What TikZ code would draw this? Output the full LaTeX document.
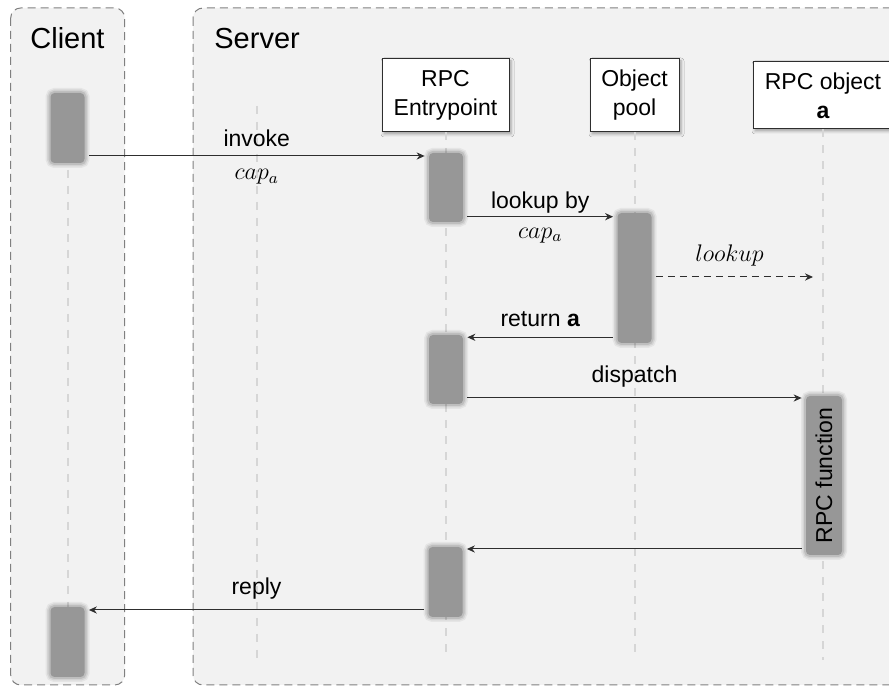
\documentclass[tikz,border=0pt]{standalone}
\usepackage{fontspec}
\setmainfont{Liberation Sans}
\usetikzlibrary{shadows.blur,calc,arrows.meta}
\definecolor{lanebg}{HTML}{F2F2F2}
\definecolor{laneborder}{HTML}{808080}
\definecolor{actfill}{HTML}{979797}
\definecolor{lifegray}{HTML}{D6D6D6}
\definecolor{msgcol}{HTML}{2E2E2E}
\newcommand{\lblfont}{\fontsize{11.5}{14.5}\selectfont}
\newcommand{\ttlfont}{\fontsize{14.5}{17}\selectfont}
\tikzset{
  lane/.style={draw=laneborder, fill=lanebg, dash pattern=on 4pt off 2.5pt, line width=0.5pt, rounded corners=5pt},
  lanetitle/.style={font=\ttlfont, anchor=base, inner sep=0pt},
  participant/.style={draw=msgcol, fill=white, line width=0.5pt, align=center, inner sep=0pt, font=\lblfont,
    blur shadow={shadow xshift=1pt, shadow yshift=-1pt, shadow blur radius=1.5pt, shadow opacity=35}},
  activation/.style={draw=none, fill=actfill, rounded corners=2pt, minimum width=17pt, inner sep=0pt,
    preaction={draw=black, line width=5pt, draw opacity=0.05},
    preaction={draw=black, line width=3.5pt, draw opacity=0.07},
    preaction={draw=black, line width=2pt, draw opacity=0.1}},
  lifeline/.style={draw=lifegray, line width=1pt, dash pattern=on 4pt off 4pt},
  msg/.style={draw=msgcol, line width=0.5pt, -{Stealth[length=4pt,width=3.6pt,inset=1.3pt]}, shorten <=2pt, shorten >=2pt},
  dmsg/.style={msg, dash pattern=on 3.5pt off 2.5pt},
  lbl/.style={font=\lblfont, anchor=base, inner sep=0pt},
}
\begin{document}
\begin{tikzpicture}[x=0.5pt, y=-0.5pt]
\useasboundingbox (0,0) rectangle (889,688);
% lanes
\draw[lane] (10.7,8) rectangle (124.7,685);
\draw[lane] (193,8) rectangle (910,685);
\node[lanetitle] (clienttitle) at (67.5,49) {Client};
\node[lanetitle, anchor=base west] (servertitle) at (214,49) {Server};
% participants
\node[participant, minimum width=63.5pt, minimum height=36.5pt] (ep) at (445.5,95.5) {RPC\\Entrypoint};
\node[participant, minimum width=44.5pt, minimum height=36.5pt] (pool) at (634.5,95.5) {Object\\pool};
\node[participant, minimum width=70pt, minimum height=33.5pt] (ro) at (823,95.5) {RPC object\\\textbf{a}};
% lifelines
\coordinate (cltop) at (67.5,106);
\coordinate (phtop) at (257,106);
\draw[lifeline] (cltop) -- (cltop |- 0,658);
\draw[lifeline] (phtop) -- (phtop |- 0,658);
\draw[lifeline] (ep.south) -- (ep.south |- 0,658);
\draw[lifeline] (pool.south) -- (pool.south |- 0,658);
\draw[lifeline] (ro.south) -- (ro.south |- 0,660);
% activations
\node[activation, minimum height=35pt] (c1) at (67.5,128) {};
\node[activation, minimum height=34.5pt] (e1) at (446,187.5) {};
\node[activation, minimum height=65pt] (p1) at (634.5,278) {};
\node[activation, minimum height=34.5pt] (e2) at (446,369.5) {};
\node[activation, rotate=90, minimum width=79.5pt, minimum height=18pt, font=\lblfont, text=black] (rf) at (824,475.5) {RPC function};
\node[activation, minimum height=35pt] (e3) at (445.5,582) {};
\node[activation, minimum height=35pt] (c2) at (67.5,642) {};
% messages
\draw[msg] (c1.east |- 0,156) -- node[lbl, yshift=4.5pt] {invoke} node[lbl, yshift=-12pt] {$cap_a$} (e1.west |- 0,156);
\draw[msg] (e1.east |- 0,216.7) -- node[lbl, yshift=4.2pt] {lookup by} node[lbl, yshift=-10.7pt] {$cap_a$} (p1.west |- 0,216.7);
\coordinate (lookupend) at ($(ro.south |- 0,277)+(-3pt,0)$);
\draw[dmsg] (p1.east |- 0,277) -- node[lbl, pos=0.47, yshift=7.7pt] {$lookup$} (lookupend);
\draw[msg] (p1.west |- 0,337.3) -- node[lbl, yshift=5.3pt] {return \textbf{a}} (e2.east |- 0,337.3);
\draw[msg] (e2.east |- 0,398) -- node[lbl, yshift=7.8pt] {dispatch} (rf.north |- 0,398);
\draw[msg] (rf.north |- 0,549) -- (e3.east |- 0,549);
\draw[msg] (e3.west |- 0,610) -- node[lbl, yshift=7.5pt] {reply} (c2.east |- 0,610);
\end{tikzpicture}
\end{document}
